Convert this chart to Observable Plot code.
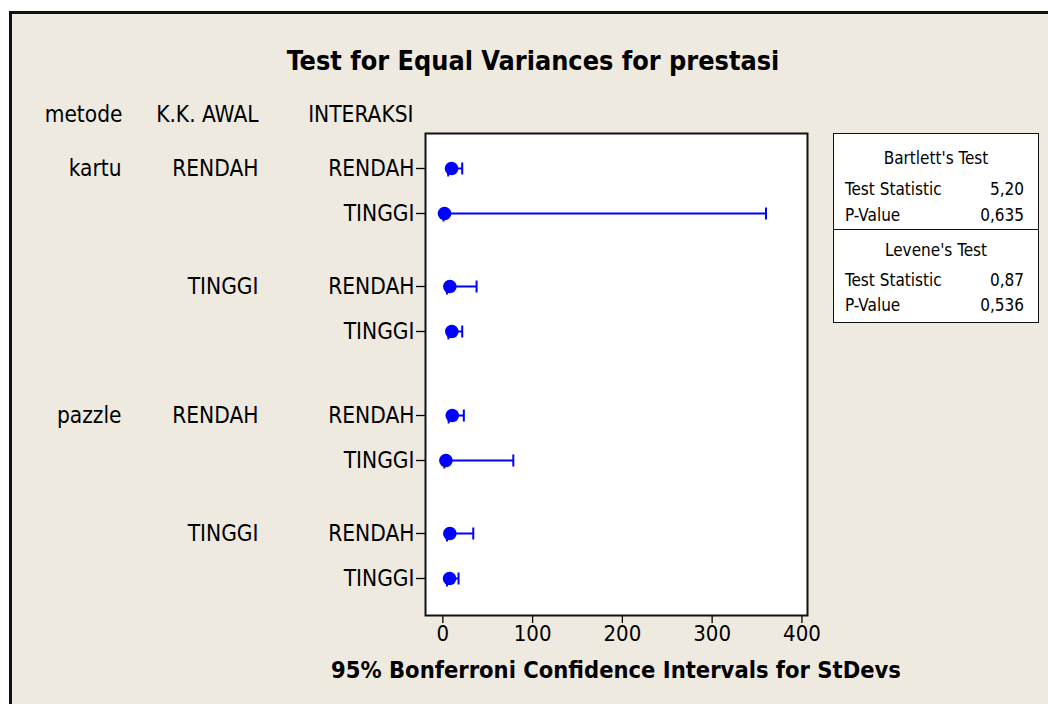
<!DOCTYPE html>
<html>
<head>
<meta charset="utf-8">
<script src="https://cdn.jsdelivr.net/npm/d3@7"></script>
<script src="https://cdn.jsdelivr.net/npm/@observablehq/plot@0.6"></script>
<style>
  html, body { margin: 0; padding: 0; background: #ffffff; }
  #wrap { position: relative; width: 1048px; height: 704px; overflow: hidden; background: #ffffff;
          font-family: "DejaVu Sans Condensed", "DejaVu Sans", sans-serif; }
  #panel { position: absolute; left: 9px; top: 11px; width: 1039px; height: 693px; box-sizing: border-box;
           background: #EEEAE0; border-left: 3px solid #111; border-top: 3px solid #111; }
  #title { position: absolute; left: 0; width: 1066px; top: 44px; text-align: center;
           font-weight: bold; font-size: 26.8px; line-height: 34px; color: #000; }
  #xlabel { position: absolute; left: 266px; width: 700px; top: 655px; text-align: center;
            font-weight: bold; font-size: 23.5px; line-height: 30px; color: #000; }
  #chart { position: absolute; left: 0; top: 0; }
  #legend { position: absolute; left: 833px; top: 133px; width: 206px; height: 190px; box-sizing: border-box;
            background: #ffffff; border: 1.5px solid #111; font-size: 17px; color: #000; }
  #legend .row { position: absolute; left: 11px; right: 14px; height: 20px; line-height: 20px; }
  #legend .row .v { position: absolute; right: 0; top: 0; }
  #legend .head { position: absolute; left: 0; right: 0; text-align: center; height: 20px; line-height: 20px; }
  #legend .div { position: absolute; left: 0; right: 0; top: 95px; border-top: 1.5px solid #111; }
</style>
</head>
<body>
<div id="wrap">
  <div id="panel"></div>
  <div id="title"></div>
  <div id="chart"></div>
  <div id="xlabel"></div>
  <div id="legend"></div>
</div>
<script>
// ---- Data ----
const metode    = ["kartu", "kartu", "kartu", "kartu", "pazzle", "pazzle", "pazzle", "pazzle"];
const kkAwal    = ["RENDAH", "RENDAH", "TINGGI", "TINGGI", "RENDAH", "RENDAH", "TINGGI", "TINGGI"];
const interaksi = ["RENDAH", "TINGGI", "RENDAH", "TINGGI", "RENDAH", "TINGGI", "RENDAH", "TINGGI"];
const stdev     = [9.7, 1.9, 7.8, 10.0, 10.5, 3.4, 7.8, 7.5];
const lowerCI   = [6.0, 0.8, 4.6, 6.2, 6.5, 1.6, 4.6, 4.6];
const upperCI   = [21.6, 360, 37.6, 21.6, 23.4, 78.5, 33.9, 17.5];
const xTicks    = [0, 100, 200, 300, 400];
const headers   = ["metode", "K.K. AWAL", "INTERAKSI"];

const testNames  = ["Bartlett's Test", "Levene's Test"];
const statLabels = ["Test Statistic", "P-Value"];
const testStats  = ["5,20", "0,87"];
const pValues    = ["0,635", "0,536"];

const titleText  = "Test for Equal Variances for prestasi";
const xLabelText = "95% Bonferroni Confidence Intervals for StDevs";

// ---- Row layout (grouping gaps in Minitab-like style) ----
const STEP = 45, KK_GAP = 28, MET_GAP = 39;
let p = 0;
const rows = metode.map((m, i) => {
  if (i > 0) {
    p += STEP;
    if (metode[i] !== metode[i - 1]) p += MET_GAP;
    else if (kkAwal[i] !== kkAwal[i - 1]) p += KK_GAP;
  }
  return {
    pos: p, metode: m, kk: kkAwal[i], inter: interaksi[i],
    sd: stdev[i], lo: lowerCI[i], hi: upperCI[i],
    showMet: i === 0 || metode[i] !== metode[i - 1],
    showKK: i === 0 || metode[i] !== metode[i - 1] || kkAwal[i] !== kkAwal[i - 1]
  };
});
const lastPos = rows[rows.length - 1].pos;
const labelAt = new Map(rows.map(r => [r.pos, r.inter]));

const BLUE = "#0000FF";
const FONT = "DejaVu Sans Condensed, DejaVu Sans, sans-serif";
const CAP = 6;
const FS = 22.5;

const chart = Plot.plot({
  width: 1048,
  height: 704,
  marginLeft: 425,
  marginRight: 241,
  marginTop: 133,
  marginBottom: 89,
  style: { background: "transparent", fontFamily: FONT, fontSize: FS + "px", color: "#000", overflow: "visible" },
  x: { domain: [-19.3, 406.2] },
  y: { domain: [-35, lastPos + 37], reverse: true },
  marks: [
    Plot.frame({ fill: "#ffffff" }),
    Plot.axisX({ ticks: xTicks, tickSize: 8, tickPadding: 2, fontSize: 22, label: null, stroke: "#000", strokeWidth: 1.3 }),
    Plot.axisY({ ticks: rows.map(r => r.pos), tickFormat: d => labelAt.get(d), tickSize: 9, tickPadding: 2,
                 fontSize: FS, label: null, stroke: "#000", strokeWidth: 1.3 }),
    // grouping label columns
    Plot.text(rows.filter(r => r.showMet), { y: "pos", text: "metode", frameAnchor: "left", textAnchor: "end",
                 dx: -304, fontSize: FS, fill: "#000" }),
    Plot.text(rows.filter(r => r.showKK), { y: "pos", text: "kk", frameAnchor: "left", textAnchor: "end",
                 dx: -167, fontSize: FS, fill: "#000" }),
    // headers
    Plot.text([headers[0]], { text: d => d, frameAnchor: "top-left", textAnchor: "end", dx: -303, dy: -27, fontSize: FS, fill: "#000" }),
    Plot.text([headers[1]], { text: d => d, frameAnchor: "top-left", textAnchor: "end", dx: -167, dy: -27, fontSize: FS, fill: "#000" }),
    Plot.text([headers[2]], { text: d => d, frameAnchor: "top-left", textAnchor: "end", dx: -12, dy: -27, fontSize: FS, fill: "#000" }),
    // intervals
    Plot.link(rows, { x1: "lo", x2: "hi", y1: "pos", y2: "pos", stroke: BLUE, strokeWidth: 2 }),
    Plot.link(rows, { x1: "hi", x2: "hi", y1: d => d.pos - CAP, y2: d => d.pos + CAP, stroke: BLUE, strokeWidth: 2 }),
    Plot.link(rows, { x1: "lo", x2: "lo", y1: d => d.pos, y2: d => d.pos + CAP + 2, stroke: BLUE, strokeWidth: 2 }),
    Plot.dot(rows, { x: "sd", y: "pos", r: 6.8, fill: BLUE, stroke: "none" }),
    Plot.frame({ stroke: "#111", strokeWidth: 2 })
  ]
});
document.getElementById("chart").appendChild(chart);
document.getElementById("title").textContent = titleText;
document.getElementById("xlabel").textContent = xLabelText;

// ---- legend box ----
const legend = document.getElementById("legend");
const rowTops = [[14, 45, 71], [106, 136, 161]];
testNames.forEach((name, k) => {
  const h = document.createElement("div");
  h.className = "head"; h.style.top = rowTops[k][0] + "px"; h.textContent = name;
  legend.appendChild(h);
  [testStats[k], pValues[k]].forEach((val, j) => {
    const r = document.createElement("div");
    r.className = "row"; r.style.top = rowTops[k][j + 1] + "px";
    r.textContent = statLabels[j];
    const v = document.createElement("span");
    v.className = "v"; v.textContent = val;
    r.appendChild(v);
    legend.appendChild(r);
  });
});
const dv = document.createElement("div");
dv.className = "div";
legend.appendChild(dv);
</script>
</body>
</html>
